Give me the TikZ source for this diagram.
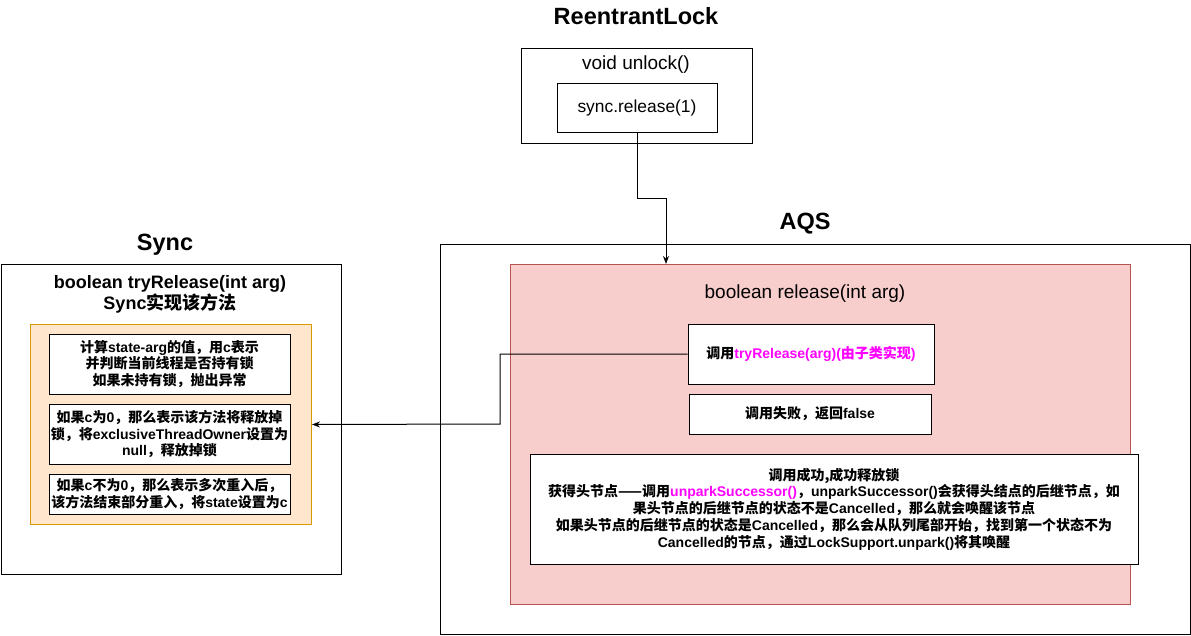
\documentclass[tikz,border=0pt]{standalone}
\usepackage{fontspec}
\setmainfont{Liberation Sans}
\newfontfamily\cjkfont{Noto Sans CJK SC}
\newcommand\zh[1]{{\cjkfont #1}}
\usetikzlibrary{arrows.meta}
\definecolor{relfill}{HTML}{F8CECC}
\definecolor{reldraw}{HTML}{B85450}
\definecolor{syncfill}{HTML}{FFE6CC}
\definecolor{syncdraw}{HTML}{D79B00}
\definecolor{callpink}{HTML}{FF00FF}

\begin{document}
\begin{tikzpicture}[
    x=1pt, y=-1pt,
    frame/.style={rectangle, draw=black, line width=1pt, anchor=north west, inner sep=0pt},
    stepbox/.style={frame, fill=white, align=center, anchor=center, font=\fontsize{14}{16.2}\selectfont\bfseries},
    title/.style={font=\fontsize{23.5}{28}\selectfont\bfseries},
    method/.style={font=\fontsize{19}{22}\selectfont, align=center},
    link/.style={line width=1pt, -{Stealth[length=8pt, width=6pt]}}
]
\useasboundingbox (0,0) rectangle (1191,636);

% ReentrantLock
\node[title] (lockname) at (636,16) {ReentrantLock};
\node[frame, minimum width=231pt, minimum height=95pt] (unlock) at (521,48) {};
\node[method] (unlockname) at (636,65) {void unlock()};
\node[stepbox, minimum width=160pt, minimum height=49pt, font=\fontsize{17.4}{20}\selectfont] (syncrel) at (637,108) {sync.release(1)};

% AQS
\node[title] (aqsname) at (805,224) {AQS};
\node[frame, minimum width=750pt, minimum height=390pt] (aqs) at (440,244) {};
\node[frame, draw=reldraw, fill=relfill, minimum width=620pt, minimum height=340pt] (relbox) at (510,264) {};
\node[method] (relname) at (805,294) {boolean release(int arg)};
\node[stepbox, minimum width=246pt, minimum height=60pt] (tryrel) at (811,354)
    {\zh{调用}{\color{callpink}tryRelease(arg)(\zh{由子类实现})}};
\node[stepbox, minimum width=242pt, minimum height=40pt] (fail) at (810,414)
    {\zh{调用失败，返回}false};
\node[stepbox, minimum width=608pt, minimum height=110pt, font=\fontsize{14}{16.8}\selectfont\bfseries] (success) at (834,509)
    {\zh{调用成功,成功释放锁}\\
     \zh{获得头节点——调用}{\color{callpink}unparkSuccessor()}\zh{，}unparkSuccessor()\zh{会获得头结点的后继节点，如}\\
     \zh{果头节点的后继节点的状态不是}Cancelled\zh{，那么就会唤醒该节点}\\
     \zh{如果头节点的后继节点的状态是}Cancelled\zh{，那么会从队列尾部开始，找到第一个状态不为}\\
     Cancelled\zh{的节点，通过}LockSupport.unpark()\zh{将其唤醒}};

% Sync
\node[title] (syncname) at (165,245) {Sync};
\node[frame, minimum width=340pt, minimum height=310pt] (sync) at (0.5,264) {};
\node[method, font=\fontsize{18}{21}\selectfont\bfseries] (tryname) at (170,294.5) {boolean tryRelease(int arg)\\Sync\zh{实现该方法}};
\node[frame, draw=syncdraw, fill=syncfill, minimum width=281pt, minimum height=200pt] (syncimpl) at (30,324) {};
\node[stepbox, minimum width=241pt, minimum height=60pt] (calc) at (169.5,364)
    {\zh{计算}state-arg\zh{的值，用}c\zh{表示}\\\zh{并判断当前线程是否持有锁}\\\zh{如果未持有锁，抛出异常}};
\node[stepbox, minimum width=241pt, minimum height=60pt] (zero) at (169.5,434)
    {\zh{如果}c\zh{为}0\zh{，那么表示该方法将释放掉}\\\zh{锁，将}exclusiveThreadOwner\zh{设置为}\\null\zh{，释放掉锁}};
\node[stepbox, minimum width=241pt, minimum height=40pt] (nonzero) at (169.5,494)
    {\zh{如果}c\zh{不为}0\zh{，那么表示多次重入后，}\\\zh{该方法结束部分重入，将}state\zh{设置为}c};

% Connectors
\coordinate (bend) at (666,199);
\draw[link] (syncrel.south) |- (bend) -- (bend |- relbox.north);
\coordinate (elbow) at (500,424);
\draw[link] (tryrel.west) -| (elbow) -- (syncimpl.east);

\end{tikzpicture}
\end{document}
